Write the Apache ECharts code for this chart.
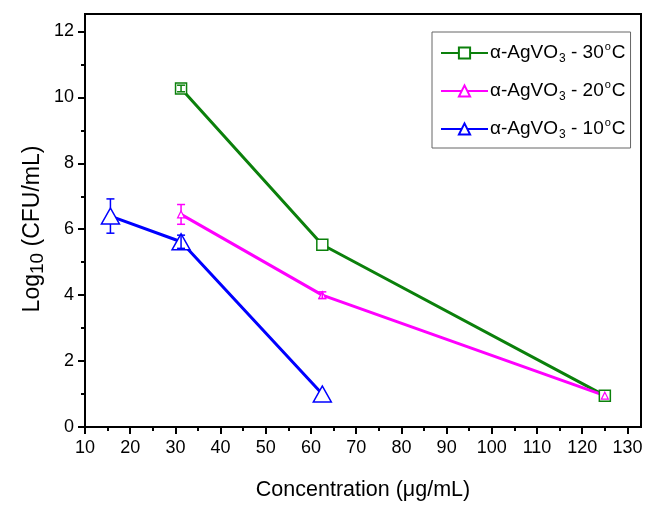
<!DOCTYPE html>
<html>
<head>
<meta charset="utf-8">
<script src="https://cdn.jsdelivr.net/npm/echarts@6/dist/echarts.min.js"></script>
<style>
  html, body { margin: 0; padding: 0; background: #fff; }
  #chart { width: 648px; height: 506px; }
</style>
</head>
<body>
<div id="chart"></div>
<script>
// Bacterial survival (log10 CFU/mL) versus alpha-AgVO3 concentration
const xTicks = [10, 20, 30, 40, 50, 60, 70, 80, 90, 100, 110, 120, 130];
const xMinorTicks = [15, 25, 35, 45, 55, 65, 75, 85, 95, 105, 115, 125];
const yTicks = [0, 2, 4, 6, 8, 10, 12];
const yMinorTicks = [1, 3, 5, 7, 9, 11];

const conc30 = [31.25, 62.5, 125];
const log30 = [10.27, 5.53, 0.95];
const err30 = [0.1, 0, 0];

const conc20 = [31.25, 62.5, 125];
const log20 = [6.45, 4.0, 0.95];
const err20 = [0.3, 0.1, 0];

const conc10 = [15.625, 31.25, 62.5];
const log10 = [6.4, 5.62, 1.0];
const err10 = [0.52, 0.2, 0];

const names = ['30', '20', '10'];
const colors = ['#0b800b', '#ff00ff', '#0000ff'];

const FONT = '"Liberation Sans", Arial, sans-serif';

function pts(xs, ys) { return xs.map((x, i) => [x, ys[i]]); }
function errPts(xs, ys, es) { return xs.map((x, i) => [x, ys[i], es[i]]); }

const chart = echarts.init(document.getElementById('chart'), null, { renderer: 'canvas' });

const legendRich = {
  t: { fontSize: 19, fontFamily: FONT, color: '#000', lineHeight: 24, verticalAlign: 'middle' },
  sub: { fontSize: 12, fontFamily: FONT, color: '#000', verticalAlign: 'bottom', lineHeight: 12, padding: [14, 0, 0, 1] },
  sup: { fontSize: 11, fontFamily: FONT, color: '#000', verticalAlign: 'top', lineHeight: 11, padding: [0, 1, 12, 1] }
};

// error bar drawer: vertical bar with caps, split around larger symbols
function errorBarSeries(data, color, symHalf, seriesName) {
  return {
    type: 'custom',
    name: seriesName + '_err',
    data: data,
    z: 5,
    silent: true,
    encode: { x: 0, y: 1 },
    renderItem: function (params, api) {
      const x = api.value(0), y = api.value(1), e = api.value(2);
      if (!e) return null;
      const hi = api.coord([x, y + e]);
      const lo = api.coord([x, y - e]);
      const c = api.coord([x, y]);
      const cap = 4;
      const st = { stroke: color, lineWidth: 1.5 };
      const children = [];
      const half = c[1] - hi[1];
      if (half > symHalf + 1) {
        children.push({ type: 'line', shape: { x1: c[0], y1: hi[1], x2: c[0], y2: c[1] - symHalf }, style: st });
        children.push({ type: 'line', shape: { x1: c[0], y1: c[1] + symHalf, x2: c[0], y2: lo[1] }, style: st });
      } else {
        children.push({ type: 'line', shape: { x1: c[0], y1: hi[1], x2: c[0], y2: lo[1] }, style: st });
      }
      children.push({ type: 'line', shape: { x1: c[0] - cap, y1: hi[1], x2: c[0] + cap, y2: hi[1] }, style: st });
      children.push({ type: 'line', shape: { x1: c[0] - cap, y1: lo[1], x2: c[0] + cap, y2: lo[1] }, style: st });
      return { type: 'group', children: children };
    }
  };
}

const seriesNames = names.map(n => 'α-AgVO3 - ' + n + '°C');

const option = {
  animation: false,
  backgroundColor: '#fff',
  textStyle: { fontFamily: FONT },
  grid: {
    left: 85, top: 14, width: 556, height: 416,
    show: true, borderColor: '#000', borderWidth: 2, backgroundColor: 'transparent'
  },
  // rotated y-axis title with subscript
  graphic: [{
    type: 'text',
    x: 33, y: 229,
    rotation: Math.PI / 2,
    style: {
      text: '{t|Log}{sub|10}{t| (CFU/mL)}',
      align: 'center', verticalAlign: 'middle',
      rich: {
        t: { fontSize: 23, fontFamily: FONT, fill: '#000', lineHeight: 28 },
        sub: { fontSize: 19, fontFamily: FONT, fill: '#000', verticalAlign: 'bottom', lineHeight: 19, padding: [11, 0, 0, 0] }
      }
    }
  }],
  legend: {
    orient: 'vertical',
    left: 432, top: 32,
    itemWidth: 47, itemHeight: 14, itemGap: 12,
    padding: [7, 5, 7, 8],
    borderColor: '#666', borderWidth: 1,
    data: seriesNames,
    formatter: function (name) {
      const t = name.match(/(\d+)°C$/)[1];
      return '{t|α-AgVO}{sub|3}{t| - ' + t + '}{sup|o}{t|C}';
    },
    textStyle: { rich: legendRich, padding: [0, 0, 0, -3] }
  },
  xAxis: [{
    type: 'value', min: 10, max: 133,
    interval: 10,
    name: 'Concentration (μg/mL)',
    nameLocation: 'middle', nameGap: 52,
    nameTextStyle: { fontSize: 21.5, color: '#000', fontFamily: FONT },
    axisLine: { show: true, lineStyle: { color: '#000', width: 2 } },
    axisTick: { show: true, inside: false, length: 7, customValues: xTicks, lineStyle: { color: '#000', width: 2 } },
    axisLabel: { show: true, customValues: xTicks, margin: 12, fontSize: 18, color: '#000', fontFamily: FONT },
    splitLine: { show: false }
  }, {
    type: 'value', min: 10, max: 133, position: 'bottom',
    axisLine: { show: false },
    axisTick: { show: true, length: 4, customValues: xMinorTicks, lineStyle: { color: '#000', width: 2 } },
    axisLabel: { show: false },
    splitLine: { show: false }
  }],
  yAxis: [{
    type: 'value', min: 0, max: 12.53,
    interval: 2,
    axisLine: { show: true, lineStyle: { color: '#000', width: 2 } },
    axisTick: { show: true, inside: false, length: 7, customValues: yTicks, lineStyle: { color: '#000', width: 2 } },
    axisLabel: { show: true, customValues: yTicks, margin: 11, fontSize: 18, color: '#000', fontFamily: FONT },
    splitLine: { show: false }
  }, {
    type: 'value', min: 0, max: 12.53, position: 'left',
    axisLine: { show: false },
    axisTick: { show: true, length: 4, customValues: yMinorTicks, lineStyle: { color: '#000', width: 2 } },
    axisLabel: { show: false },
    splitLine: { show: false }
  }],
  series: [
    {
      type: 'line', name: seriesNames[0], data: pts(conc30, log30),
      color: colors[0], z: 3,
      lineStyle: { width: 3, color: colors[0] },
      symbol: 'rect', symbolSize: 11, showAllSymbol: true,
      itemStyle: { color: '#fff', borderColor: colors[0], borderWidth: 1.5 }
    },
    {
      type: 'line', name: seriesNames[1], data: pts(conc20, log20),
      color: colors[1], z: 3,
      lineStyle: { width: 3, color: colors[1] },
      symbol: 'triangle', symbolSize: 7, showAllSymbol: true,
      itemStyle: { color: '#fff', borderColor: colors[1], borderWidth: 1.2 }
    },
    {
      type: 'line', name: seriesNames[2], data: pts(conc10, log10),
      color: colors[2], z: 3,
      lineStyle: { width: 3, color: colors[2] },
      symbol: 'triangle', symbolSize: [18, 16], showAllSymbol: true,
      itemStyle: { color: '#fff', borderColor: colors[2], borderWidth: 1.5 }
    },
    errorBarSeries(errPts(conc30, log30, err30), colors[0], 5, seriesNames[0]),
    errorBarSeries(errPts(conc20, log20, err20), colors[1], 3, seriesNames[1]),
    errorBarSeries(errPts(conc10, log10, err10), colors[2], 8, seriesNames[2])
  ]
};

chart.setOption(option);
</script>
</body>
</html>
